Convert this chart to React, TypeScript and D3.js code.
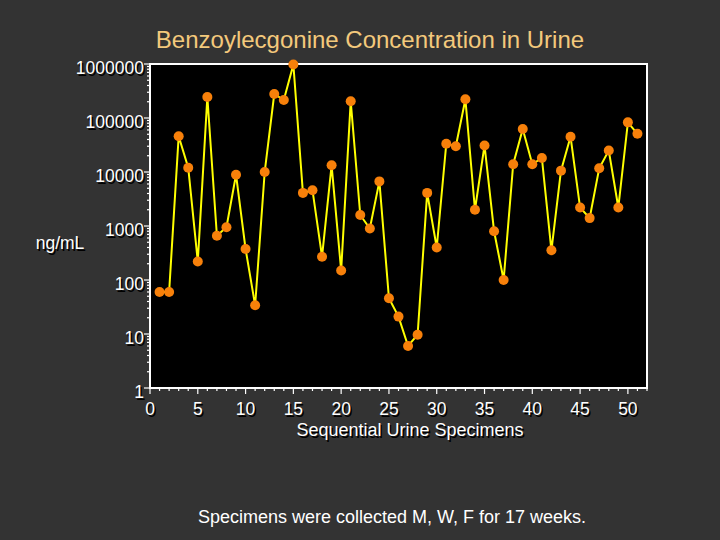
import React, { useEffect, useRef } from "react";
import * as d3 from "d3";

// Benzoylecgonine, ng/mL, per sequential specimen (1..51)
const specimens = d3.range(1, 52);
const concentrations = [
    60, 60, 46000, 12000, 220, 245000, 660, 950, 8900, 375,
    34, 10000, 278000, 215000, 980000, 4100, 4600, 270, 13300, 150,
    204000, 1600, 900, 6700, 46, 21, 6, 9.7, 4100, 400,
    33400, 30000, 222000, 2000, 31000, 800, 100, 13900, 62500, 13900,
    18200, 355, 10600, 45000, 2200, 1400, 11700, 25000, 2200, 83000,
    51000,
];
const yTickValues = [1, 10, 100, 1000, 10000, 100000, 1000000];
const xTickValues = [0, 5, 10, 15, 20, 25, 30, 35, 40, 45, 50];

const W = 720;
const H = 540;
const FONT = "'Liberation Sans', Arial, sans-serif";

const App = () => {
    const svgRef = useRef<SVGSVGElement>(null);

    useEffect(() => {
        const svg = d3.select(svgRef.current);
        svg.selectAll("*").remove();

        const left = 150, right = 647, top = 64, bottom = 388;

        const x = d3.scaleLinear().domain([0, 52]).range([left, right]);
        const y = d3.scaleLog().domain([1, 1000000]).range([bottom, top]);

        svg.append("rect").attr("width", W).attr("height", H).attr("fill", "#333333");

        // plot area
        svg.append("rect")
            .attr("x", left).attr("y", top)
            .attr("width", right - left).attr("height", bottom - top)
            .attr("fill", "#000")
            .attr("stroke", "#fff").attr("stroke-width", 2);

        // y ticks (log minors)
        const minors: number[] = [];
        for (let d = 1; d < 1000000; d *= 10) {
            for (let k = 1; k < 10; k++) minors.push(d * k);
        }
        minors.push(1000000);
        svg.append("g").selectAll("line")
            .data(minors)
            .join("line")
            .attr("x1", left)
            .attr("x2", (d) => (yTickValues.includes(d) ? left - 6 : left - 3))
            .attr("y1", (d) => y(d)).attr("y2", (d) => y(d))
            .attr("stroke", "#fff").attr("stroke-width", 1.2);

        // x ticks
        svg.append("g").selectAll("line")
            .data(d3.range(0, 53))
            .join("line")
            .attr("x1", (d) => x(d)).attr("x2", (d) => x(d))
            .attr("y1", bottom)
            .attr("y2", (d) => (d % 5 === 0 ? bottom + 6 : bottom + 3))
            .attr("stroke", "#fff").attr("stroke-width", 1.2);

        // white labels with a dark drop shadow
        const shadowText = (
            g: d3.Selection<SVGGElement, unknown, null, undefined>,
            tx: number, ty: number, text: string, anchor: string, size: number
        ) => {
            g.append("text")
                .attr("x", tx + 1.5).attr("y", ty + 1.5)
                .attr("text-anchor", anchor).attr("font-size", size)
                .attr("fill", "#000").text(text);
            g.append("text")
                .attr("x", tx).attr("y", ty)
                .attr("text-anchor", anchor).attr("font-size", size)
                .attr("fill", "#fff").text(text);
        };

        const labels = svg.append("g").attr("font-family", FONT);
        yTickValues.forEach((v) => {
            shadowText(labels, left - 6, y(v) + 10, String(v), "end", 17.5);
        });
        xTickValues.forEach((v) => {
            shadowText(labels, x(v), bottom + 27, String(v), "middle", 17.5);
        });
        shadowText(labels, 410, 436, "Sequential Urine Specimens", "middle", 18);
        shadowText(labels, 60, 249, "ng/mL", "middle", 17.5);

        // series line
        const line = d3.line<number>()
            .x((_, i) => x(specimens[i]))
            .y((d) => y(d));
        svg.append("path")
            .datum(concentrations)
            .attr("d", line)
            .attr("fill", "none")
            .attr("stroke", "#ffff00")
            .attr("stroke-width", 2);

        svg.append("g").selectAll("circle")
            .data(concentrations)
            .join("circle")
            .attr("cx", (_, i) => x(specimens[i]))
            .attr("cy", (d) => y(d))
            .attr("r", 5)
            .attr("fill", "#f7800a");

        svg.append("text")
            .attr("x", 370).attr("y", 48)
            .attr("text-anchor", "middle")
            .attr("font-family", FONT).attr("font-size", 24)
            .attr("fill", "#f3c97c")
            .text("Benzoylecgonine Concentration in Urine");

        svg.append("text")
            .attr("x", 392).attr("y", 523)
            .attr("text-anchor", "middle")
            .attr("font-family", FONT).attr("font-size", 18)
            .attr("fill", "#fff")
            .text("Specimens were collected M, W, F for 17 weeks.");
    }, []);

    return (
        <svg
            ref={svgRef}
            width={W}
            height={H}
            style={{ position: "absolute", left: 0, top: 0 }}
        />
    );
};

export default App;
